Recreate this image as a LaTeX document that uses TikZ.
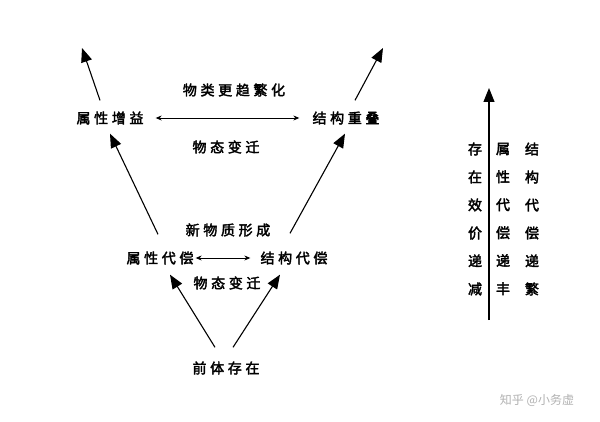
\documentclass[tikz,border=0pt]{standalone}
\usepackage{fontspec}
\usetikzlibrary{arrows.meta}
\newfontfamily\cjk[LetterSpace=26,FakeBold=2.5]{Noto Sans CJK SC}
\newfontfamily\cjkcol[FakeBold=2.5]{Noto Sans CJK SC}
\newfontfamily\wmfont{Noto Sans CJK SC}
\tikzset{
  lbl/.style={font=\cjk\fontsize{14}{14}\selectfont, inner sep=1pt},
  colbox/.style={font=\cjkcol\fontsize{14}{28}\selectfont, align=center, inner sep=0pt},
  uparrow/.style={-{Triangle[length=14pt,width=11pt]}, line width=1.1pt},
  twoway/.style={{Stealth[length=6pt,width=5pt]}-{Stealth[length=6pt,width=5pt]}, line width=0.9pt},
}
\begin{document}
\begin{tikzpicture}[x=1pt,y=-1pt]
        \useasboundingbox (0,0) rectangle (600,422);
        \fill[white] (0,0) rectangle (600,422);

        % upper level
        \node[lbl] (zy) at (110,118) {属性增益};
        \node[lbl] (jc) at (346,118) {结构重叠};
        \node[lbl] (wl) at (234,90) {物类更趋繁化};
        \node[lbl] (wt1) at (226,147) {物态变迁};
        \draw[twoway] ([xshift=11pt]zy.east) -- ([xshift=-12pt]jc.west);

        % outward arrows
        \coordinate (tl) at (82,48);
        \coordinate (tr) at (383,48);
        \draw[uparrow] ([shift={(-10pt,10pt)}]zy.north) -- (tl);
        \draw[uparrow] ([shift={(9pt,10pt)}]jc.north) -- (tr);

        % middle level
        \node[lbl] (xw) at (228,230) {新物质形成};
        \node[lbl] (sd) at (160,258) {属性代偿};
        \node[lbl] (jd) at (294,258) {结构代偿};
        \node[lbl] (wt2) at (227,283) {物态变迁};
        \draw[twoway] ([xshift=1pt]sd.east) -- ([xshift=-9pt]jd.west);
        \draw[uparrow] ([shift={(-2pt,16pt)}]sd.north) -- ([shift={(0pt,-8pt)}]zy.south);
        \draw[uparrow] ([shift={(-4pt,17pt)}]jd.north) -- ([shift={(-1pt,-8pt)}]jc.south);

        % bottom
        \node[lbl] (qt) at (226,368) {前体存在};
        \draw[uparrow] ([shift={(-11pt,13pt)}]qt.north) -- ([shift={(10pt,-9pt)}]sd.south);
        \draw[uparrow] ([shift={(7pt,13pt)}]qt.north) -- ([shift={(-14pt,-9pt)}]jd.south);

        % right scale
        \coordinate (vb) at (489,320);
        \coordinate (vt) at (489,88);
        \draw[uparrow] (vb) -- (vt);
        \node[colbox] (c1) at (475,219) {存\\在\\效\\价\\递\\减};
        \node[colbox] (c2) at (503,219) {属\\性\\代\\偿\\递\\丰};
        \node[colbox] (c3) at (532,219) {结\\构\\代\\偿\\递\\繁};

        \node[font=\wmfont\fontsize{12}{12}\selectfont, text=gray!60] (wm) at (537,400) {知乎 @小务虚};
\end{tikzpicture}
\end{document}
